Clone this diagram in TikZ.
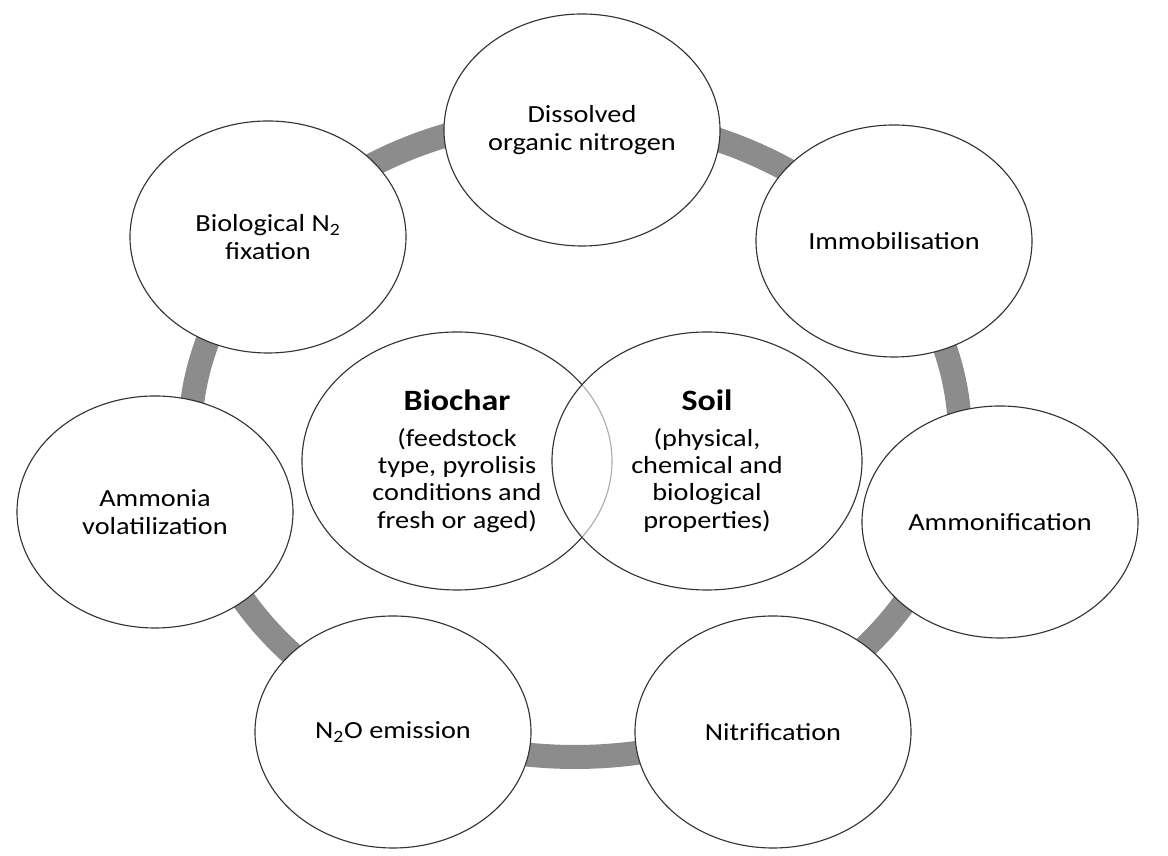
\documentclass[tikz,border=0pt]{standalone}
\usepackage{fontspec}
\setmainfont{Carlito}[FakeStretch=1.15]
\usetikzlibrary{shapes.geometric}

\begin{document}
\begin{tikzpicture}[
	stage/.style={ellipse, draw=black!80, line width=0.8pt, fill=white, inner sep=0pt,
		minimum width=6.9cm, minimum height=5.8cm, align=center,
		font=\fontsize{17.5}{19.5}\selectfont},
	core/.style={stage, minimum width=7.75cm, minimum height=6.45cm},
	ring/.style={line width=0.6cm, draw=black!45}
	]
	\useasboundingbox (0,0) rectangle (29.2,21.4);
	% the band behind the outer ellipses
	\coordinate (ctr) at (14.375,10.475);
	\draw[ring] (ctr) ellipse (9.625cm and 8cm);
	
	\draw (14.55,18.15) node[stage] (don) {Dissolved\\organic nitrogen}
	(22.35,15.375) node[stage] (imm) {Immobilisation}
	(25.0,8.35) node[stage] (amf) {Ammonification}
	(19.325,3.1) node[stage] (nit) {Nitrification}
	(9.825,3.1) node[stage] (n2o) {N\textsubscript{2}O emission}
	(3.875,8.6) node[stage] (amv) {Ammonia\\volatilization}
	(6.7,15.475) node[stage] (bnf) {Biological N\textsubscript{2}\\fixation};
	
	% the two overlapping ellipses in the middle
	\draw (11.425,9.875) node[core] (bio) {{\fontsize{21}{24}\selectfont\bfseries Biochar}\\[6pt]
		(feedstock\\type, pyrolisis\\conditions and\\fresh or aged)}
	(17.675,9.875) node[core, fill opacity=0.6, text opacity=1] (soil) {{\fontsize{21}{24}\selectfont\bfseries Soil}\\[6pt]
		(physical,\\chemical and\\biological\\properties)};
\end{tikzpicture}
\end{document}
